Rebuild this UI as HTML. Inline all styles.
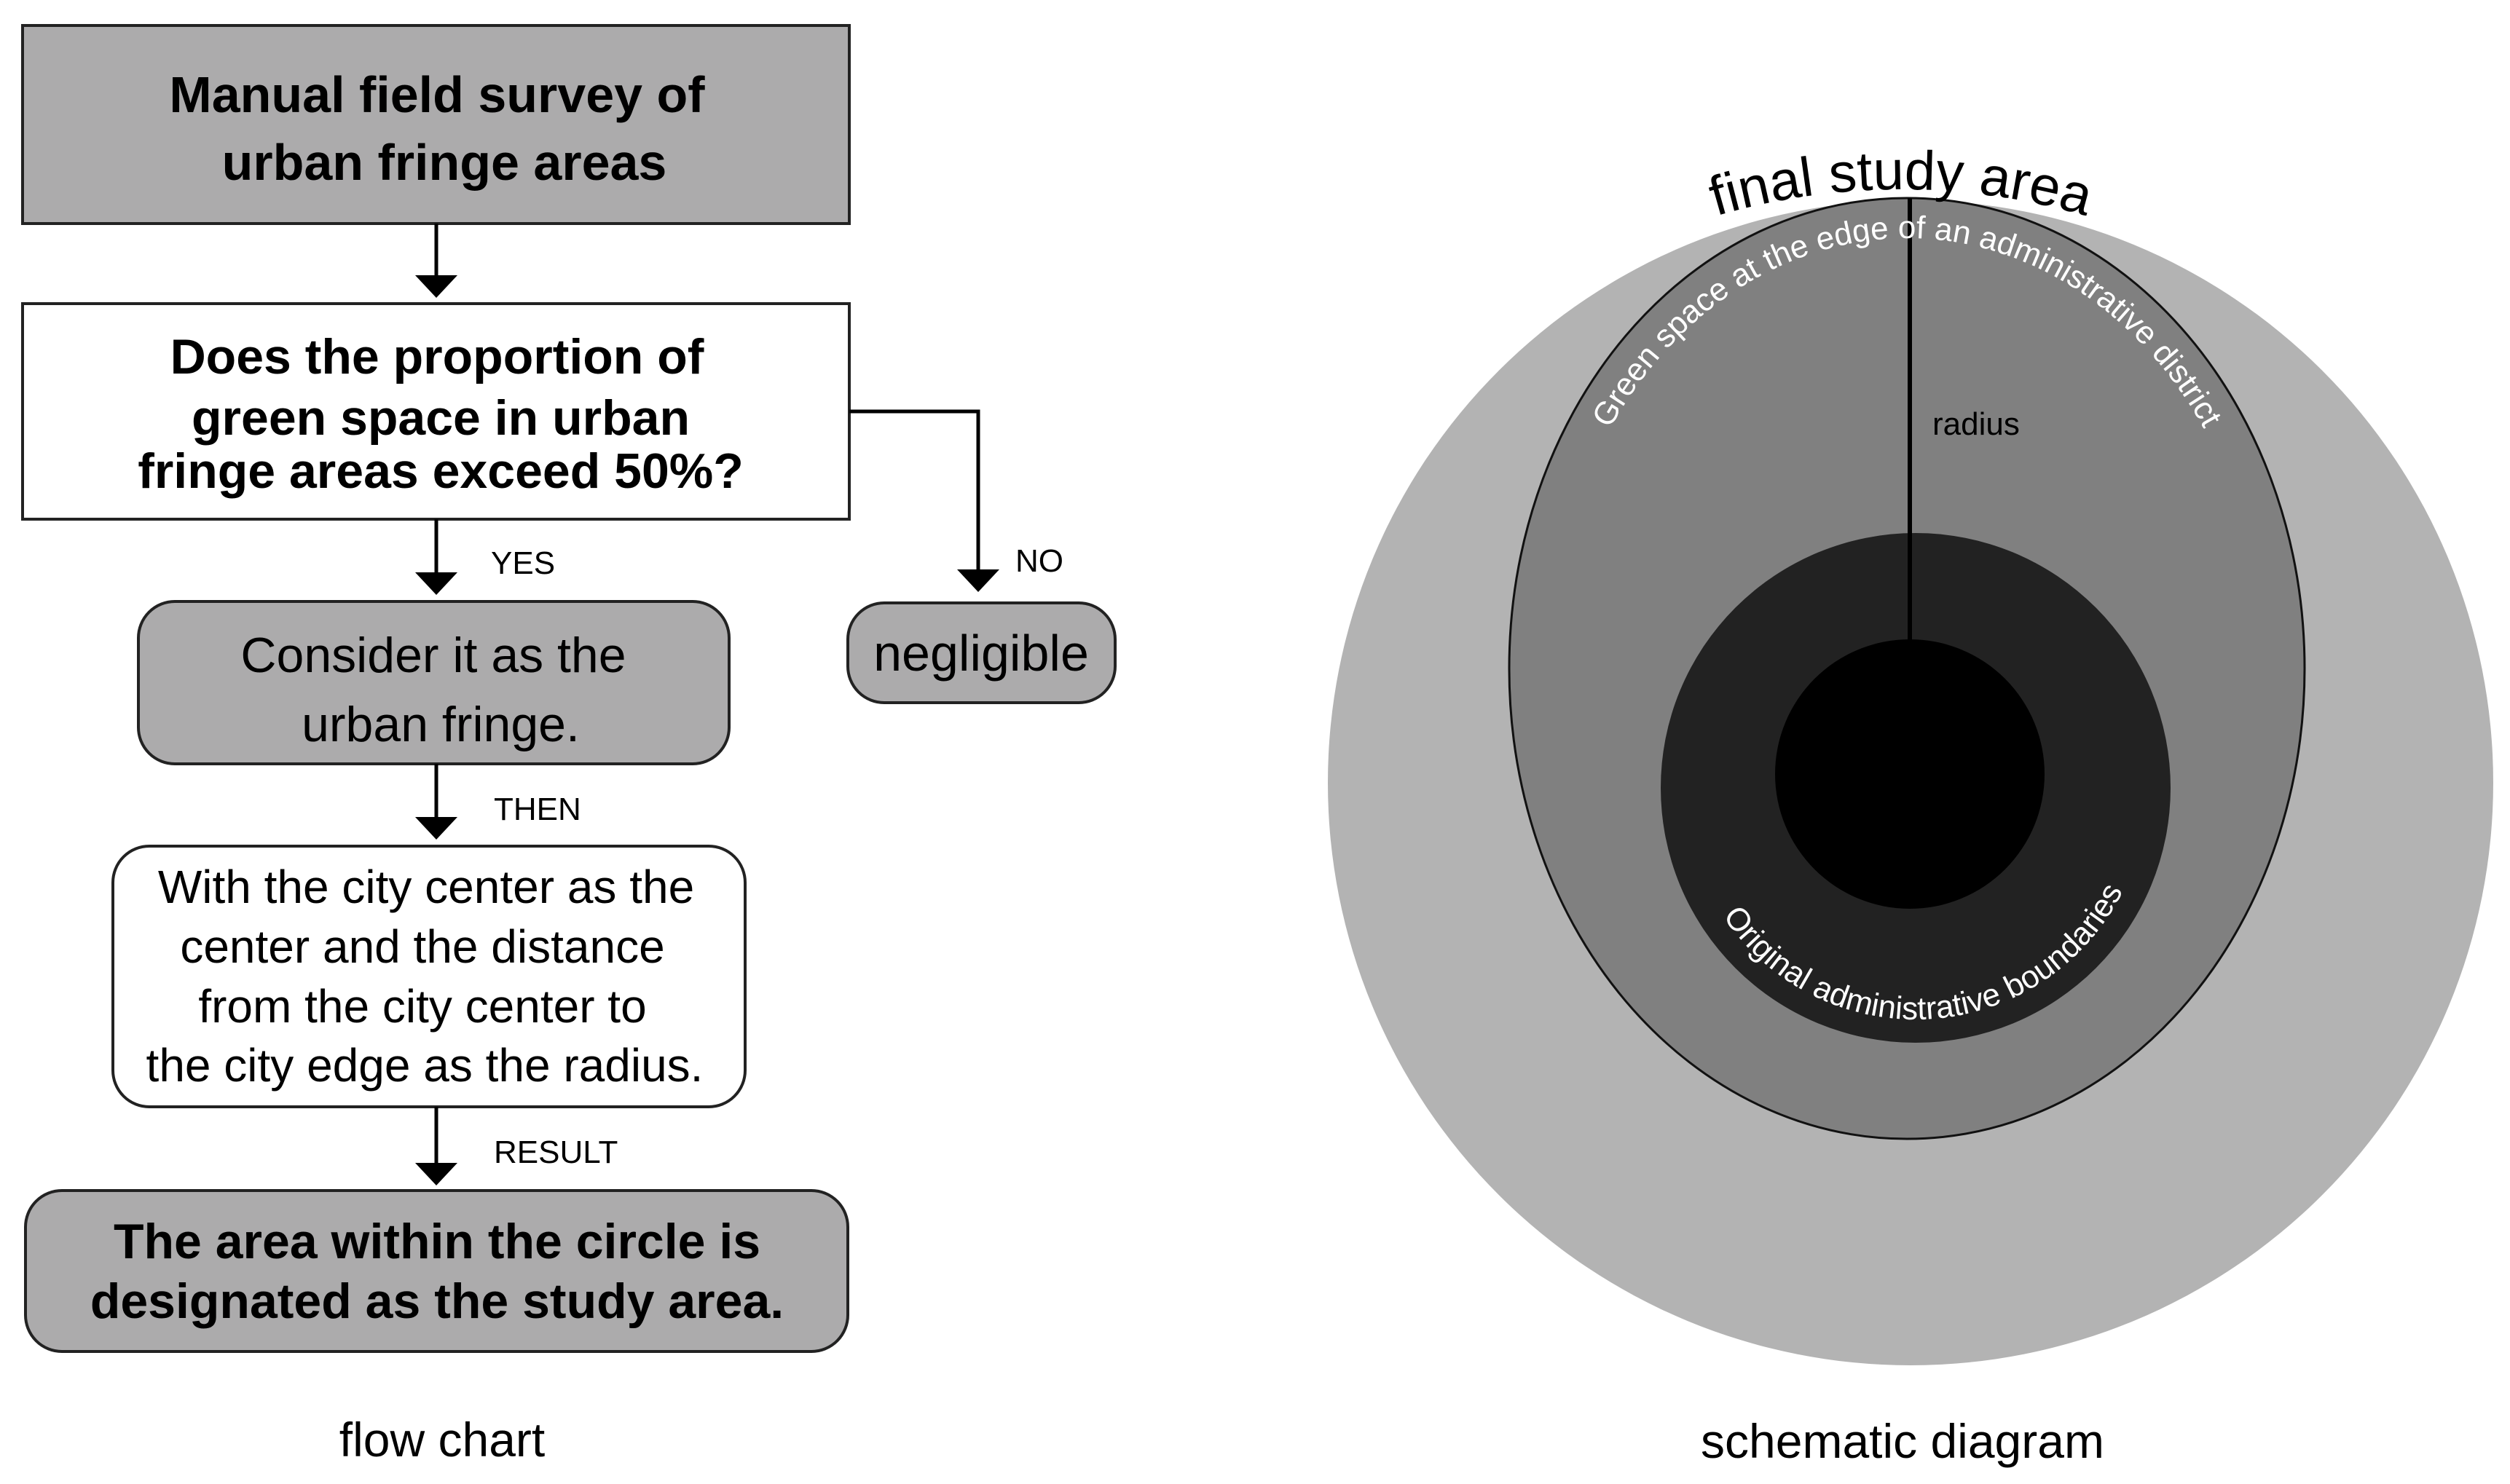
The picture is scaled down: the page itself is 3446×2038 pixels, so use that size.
<!DOCTYPE html>
<html><head><meta charset="utf-8"><style>
html,body{margin:0;padding:0;background:#fff;}
svg{display:block;}
text{font-family:"Liberation Sans",sans-serif;}
</style></head><body>
<svg width="3446" height="2038" viewBox="0 0 3446 2038" xmlns="http://www.w3.org/2000/svg">
<defs>
<marker id="ah" markerWidth="10" markerHeight="10" refX="5" refY="5" orient="auto" markerUnits="userSpaceOnUse" viewBox="0 0 10 10"></marker>
<path id="gp" d="M 2127 918 A 491 591 0 0 1 3109 918"/>
<path id="op" d="M 2312 1082 A 318 318 0 0 0 2948 1082"/>
<path id="fp" d="M 1710 1160 A 900 900 0 0 1 3510 1160"/>
</defs>
<g stroke="#000" stroke-width="3" fill="none">
</g>
<!-- flow chart boxes -->
<rect x="31" y="35" width="1135" height="272" fill="#acabac" stroke="#222" stroke-width="4"/>
<rect x="31" y="417" width="1135" height="296" fill="#fff" stroke="#222" stroke-width="4"/>
<rect x="190" y="826" width="811" height="223" rx="50" fill="#acabac" stroke="#222" stroke-width="4"/>
<rect x="1164" y="828" width="367" height="137" rx="50" fill="#acabac" stroke="#222" stroke-width="4"/>
<rect x="155" y="1162" width="868" height="358" rx="50" fill="#fff" stroke="#222" stroke-width="4"/>
<rect x="35" y="1635" width="1129" height="221" rx="50" fill="#acabac" stroke="#222" stroke-width="4"/>
<!-- connectors -->
<g stroke="#000" stroke-width="5" fill="none">
<line x1="599" y1="307" x2="599" y2="380"/>
<line x1="599" y1="713" x2="599" y2="790"/>
<line x1="599" y1="1049" x2="599" y2="1125"/>
<line x1="599" y1="1520" x2="599" y2="1600"/>
<polyline points="1166,565 1343,565 1343,785"/>
</g>
<g fill="#000">
<polygon points="570,378 628,378 599,409"/>
<polygon points="570,786 628,786 599,817"/>
<polygon points="570,1122 628,1122 599,1153"/>
<polygon points="570,1597 628,1597 599,1628"/>
<polygon points="1314,782 1372,782 1343,813"/>
</g>
<!-- flow text -->
<g text-anchor="middle" fill="#000">
<text x="600" y="154" font-size="70" font-weight="bold">Manual field survey of</text>
<text x="610" y="247" font-size="70" font-weight="bold">urban fringe areas</text>
<text x="600" y="513" font-size="68" font-weight="bold">Does the proportion of</text>
<text x="605" y="597" font-size="68" font-weight="bold">green space in urban</text>
<text x="605" y="670" font-size="68" font-weight="bold">fringe areas exceed 50%?</text>
<text x="595" y="923" font-size="68">Consider it as the</text>
<text x="605" y="1018" font-size="68">urban fringe.</text>
<text x="1347" y="921" font-size="70">negligible</text>
<text x="585" y="1240" font-size="64">With the city center as the</text>
<text x="580" y="1322" font-size="64">center and the distance</text>
<text x="580" y="1404" font-size="64">from the city center to</text>
<text x="583" y="1485" font-size="64">the city edge as the radius.</text>
<text x="600" y="1728" font-size="68" font-weight="bold">The area within the circle is</text>
<text x="600" y="1810" font-size="68" font-weight="bold">designated as the study area.</text>
<text x="607" y="2000" font-size="66">flow chart</text>
<text x="2612" y="2002" font-size="66">schematic diagram</text>
</g>
<g fill="#000" font-size="44">
<text x="674" y="788">YES</text>
<text x="1394" y="785">NO</text>
<text x="678" y="1126">THEN</text>
<text x="678" y="1597">RESULT</text>
</g>
<!-- schematic -->
<circle cx="2623" cy="1075" r="800" fill="#b3b3b3"/>
<ellipse cx="2618" cy="918" rx="546" ry="646" fill="#808080" stroke="#111" stroke-width="3"/>
<circle cx="2630" cy="1082" r="350" fill="#222"/>
<circle cx="2622" cy="1063" r="185" fill="#000"/>
<line x1="2622" y1="272" x2="2622" y2="880" stroke="#000" stroke-width="6"/>
<text x="2653" y="597" font-size="44" fill="#000">radius</text>
<text font-size="44" fill="#fff"><textPath href="#gp" startOffset="50%" text-anchor="middle">Green space at the edge of an administrative district</textPath></text>
<text font-size="44" fill="#fff"><textPath href="#op" startOffset="52%" text-anchor="middle">Original administrative boundaries</textPath></text>
<text font-size="76" fill="#000"><textPath href="#fp" startOffset="50%" text-anchor="middle">final study area</textPath></text>
</svg>
</body></html>
